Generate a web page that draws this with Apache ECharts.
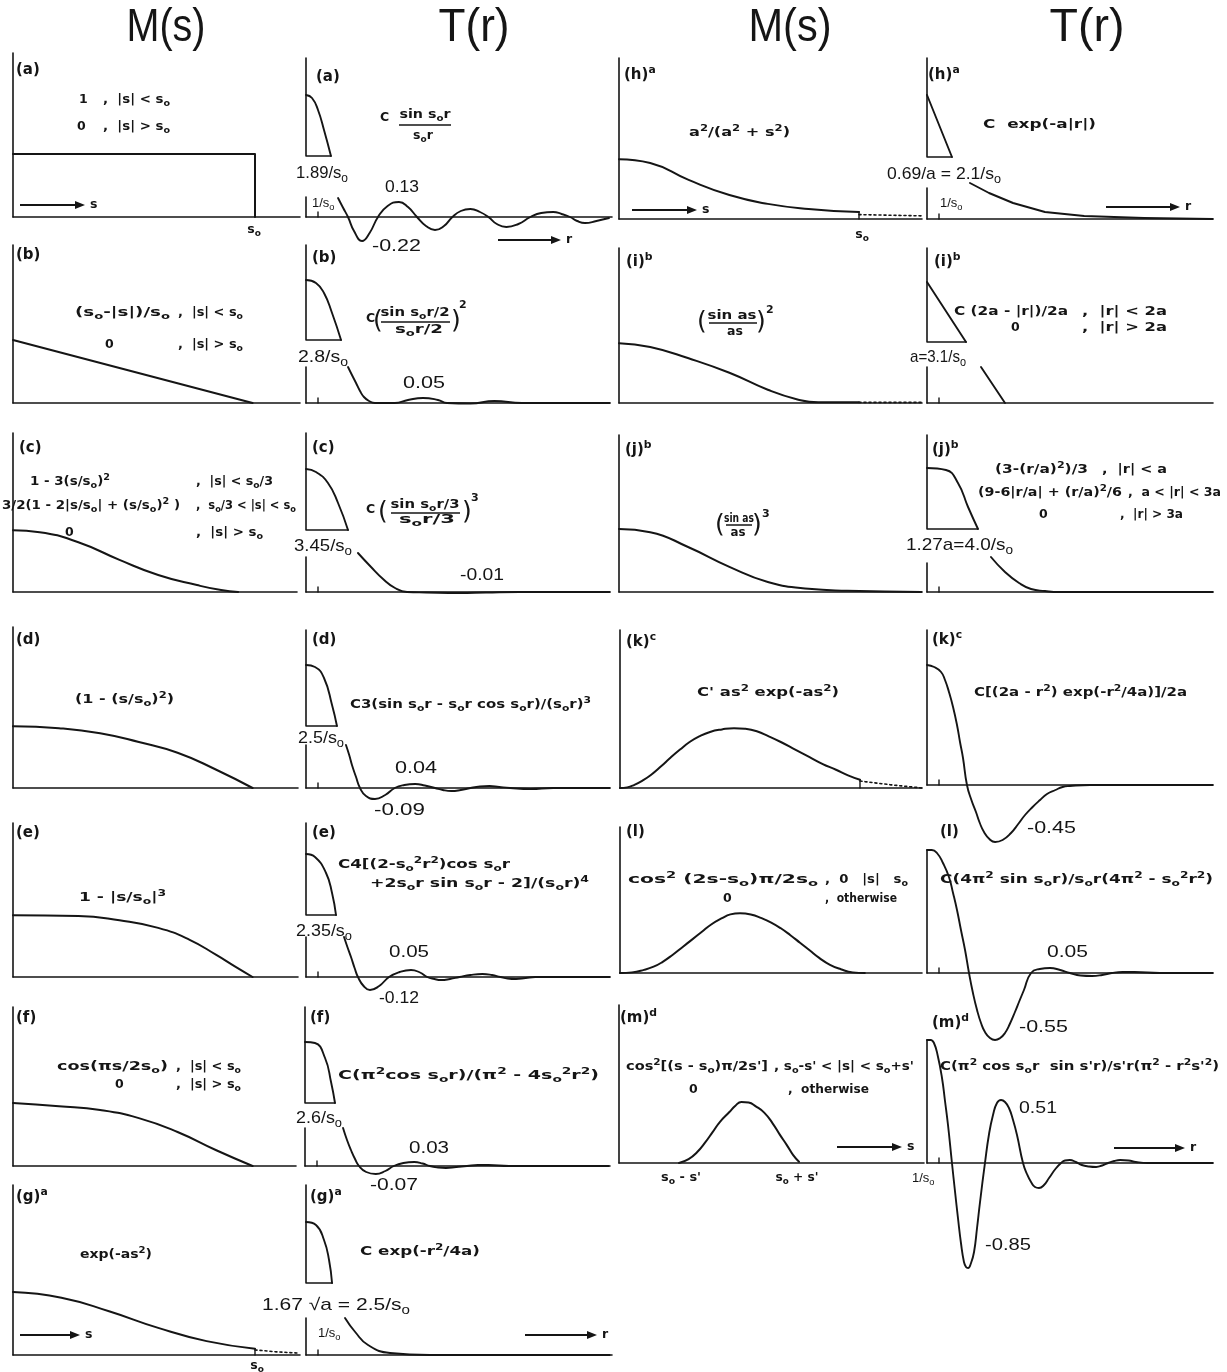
<!DOCTYPE html>
<html>
<head>
<meta charset="utf-8">
<script src="https://cdn.jsdelivr.net/npm/echarts@6/dist/echarts.min.js"></script>
<style>
  html, body { margin: 0; padding: 0; background: #fff; }
  #chart { width: 1227px; height: 1372px; }
</style>
</head>
<body>
<div id="chart"></div>
<script>
// ---- values ----
// M(s) panels: x = s/s0, y = M(s)
const mA = [[0, 1], [1, 1], [1, 0]];
const mB = [[0, 1], [0.99, 0]];
const mC = [[0, 0.98], [0.11, 0.95], [0.27, 0.79], [0.44, 0.51], [0.60, 0.27], [0.76, 0.11], [0.86, 0.03], [0.93, 0]];
const mD = [[0, 0.98], [0.19, 0.95], [0.36, 0.87], [0.52, 0.73], [0.68, 0.56], [0.84, 0.29], [0.99, 0]];
const mE = [[0, 0.98], [0.27, 0.97], [0.44, 0.90], [0.60, 0.78], [0.73, 0.59], [0.84, 0.35], [0.92, 0.16], [0.99, 0]];
const mF = [[0, 1.0], [0.19, 0.95], [0.36, 0.89], [0.52, 0.76], [0.68, 0.54], [0.84, 0.25], [0.99, 0]];
const mG = [[0, 1.0], [0.2, 0.91], [0.4, 0.69], [0.6, 0.43], [0.8, 0.22], [1.0, 0.10]];
const mGdot = [[1.0, 0.08], [1.09, 0.05], [1.18, 0.03]];
const mH = [[0, 0.95], [0.13, 0.89], [0.29, 0.62], [0.46, 0.38], [0.62, 0.24], [0.79, 0.16], [1.0, 0.11]];
const mHdot = [[1.0, 0.07], [1.26, 0.05]];
const mI = [[0, 0.95], [0.13, 0.89], [0.29, 0.71], [0.46, 0.48], [0.62, 0.21], [0.74, 0.06], [0.83, 0.01], [1.0, 0.01]];
const mIdot = [[1.0, 0.01], [1.26, 0.01]];
const mJ = [[0, 1.0], [0.13, 0.95], [0.29, 0.71], [0.46, 0.40], [0.62, 0.16], [0.79, 0.05], [0.95, 0.02], [1.26, 0]];
const mK = [[0, 0], [0.03, 0.01], [0.06, 0.05], [0.095, 0.12], [0.13, 0.21], [0.17, 0.34], [0.21, 0.48], [0.25, 0.61], [0.29, 0.73], [0.33, 0.82], [0.375, 0.89], [0.425, 0.93], [0.475, 0.95], [0.52, 0.94], [0.57, 0.90], [0.62, 0.82], [0.67, 0.73], [0.73, 0.61], [0.79, 0.49], [0.845, 0.38], [0.9, 0.29], [0.95, 0.20], [1.0, 0.13]];
const mKdot = [[1.0, 0.11], [1.13, 0.05], [1.26, 0]];
const mL = [[0, 0], [0.05, 0.01], [0.1, 0.05], [0.14, 0.10], [0.175, 0.17], [0.22, 0.29], [0.26, 0.41], [0.30, 0.53], [0.34, 0.65], [0.38, 0.77], [0.425, 0.87], [0.46, 0.93], [0.5, 0.95], [0.545, 0.93], [0.59, 0.87], [0.63, 0.80], [0.67, 0.71], [0.71, 0.60], [0.75, 0.48], [0.79, 0.36], [0.83, 0.24], [0.875, 0.13], [0.92, 0.06], [0.97, 0.01], [1.02, 0]];
const mM = [[0.25, 0], [0.29, 0.06], [0.325, 0.17], [0.36, 0.33], [0.39, 0.49], [0.42, 0.65], [0.46, 0.81], [0.485, 0.91], [0.51, 0.97], [0.54, 0.96], [0.57, 0.90], [0.605, 0.80], [0.64, 0.63], [0.67, 0.45], [0.70, 0.28], [0.725, 0.13], [0.75, 0.02]];

// T(r) panels: x = r*s0, y = T (inset = central lobe, lo = magnified tail)
const tA_in = [[0, 1.22], [0.5, 1.19], [1.0, 1.07], [1.5, 0.87], [2.08, 0.61]];
const tA_lo = [[2.67, 0.19], [3.1, 0.09], [3.5, 0], [4.0, -0.14], [4.67, -0.24], [5.3, -0.16], [6.0, 0], [6.8, 0.11], [7.75, 0.15], [8.5, 0.10], [9.25, 0], [10, -0.09], [10.75, -0.13], [11.5, -0.09], [12.2, 0], [12.9, 0.06], [13.7, 0.08], [14.5, 0.05], [15.2, 0], [15.9, -0.07], [16.7, -0.10], [17.7, -0.07], [18.7, 0], [19.6, 0.04], [20.6, 0.05], [21.3, 0.03], [22, 0], [22.6, -0.04], [23.25, -0.06], [24.2, -0.04], [25.25, -0.01]];
const tB_in = [[0, 1.23], [0.83, 1.20], [1.5, 1.10], [2.17, 0.90], [2.92, 0.63]];
const tB_lo = [[3.5, 0.36], [3.83, 0.28], [4.17, 0.20], [4.5, 0.12], [4.83, 0.06], [5.25, 0.02], [5.75, 0], [7.4, 0], [8.5, 0.03], [9.75, 0.05], [11, 0.03], [11.75, 0], [13.7, -0.005], [15.7, 0.02], [18, 0], [25.3, 0]];
const tC_in = [[0, 1.23], [0.83, 1.20], [1.83, 1.09], [2.67, 0.89], [3.5, 0.62]];
const tC_lo = [[4.33, 0.39], [5.42, 0.25], [6.42, 0.13], [7.42, 0.04], [8.42, 0], [10, -0.005], [12.8, -0.01], [15, -0.005], [17.8, 0], [25.3, 0]];
const tD_in = [[0, 1.23], [0.75, 1.21], [1.5, 1.10], [2.17, 0.83], [2.58, 0.62]];
const tD_lo = [[3.33, 0.43], [3.6, 0.33], [3.83, 0.23], [4.17, 0.11], [4.5, 0], [5.0, -0.08], [5.75, -0.11], [6.6, -0.07], [7.4, 0], [8.2, 0.03], [9.1, 0.04], [9.9, 0.025], [10.75, 0], [11.4, -0.02], [12.1, -0.03], [12.9, -0.02], [13.7, 0], [14.5, 0.015], [15.3, 0.02], [16.1, 0.01], [17, 0], [18.7, -0.01], [20.6, 0], [25.3, 0]];
const tE_in = [[0, 1.23], [0.75, 1.20], [1.67, 1.04], [2.17, 0.84], [2.5, 0.62]];
const tE_lo = [[3.17, 0.40], [3.45, 0.30], [3.75, 0.20], [4.05, 0.09], [4.33, 0], [4.8, -0.09], [5.33, -0.13], [6.1, -0.09], [6.92, 0], [7.8, 0.05], [8.75, 0.07], [9.5, 0.045], [10.1, 0], [10.7, -0.02], [11.25, -0.03], [12, -0.02], [12.8, 0], [13.7, 0.02], [14.7, 0.03], [15.5, 0.02], [16.2, 0], [16.8, -0.015], [17.5, -0.02], [18.3, -0.01], [19.1, 0], [25.3, 0]];
const tF_in = [[0, 1.24], [0.83, 1.23], [1.67, 1.08], [2.17, 0.84], [2.5, 0.63]];
const tF_lo = [[3.17, 0.38], [3.5, 0.26], [3.83, 0.16], [4.17, 0.07], [4.5, 0], [5.1, -0.06], [5.9, -0.08], [6.7, -0.05], [7.4, 0], [8.2, 0.03], [9.1, 0.04], [9.8, 0.025], [10.4, 0], [11.1, -0.015], [11.75, -0.02], [12.6, -0.01], [13.5, 0], [14.4, 0.01], [15.3, 0.01], [17, 0], [25.3, 0]];
const tG_in = [[0, 1.33], [0.83, 1.30], [1.5, 1.15], [1.92, 0.95], [2.17, 0.72]];
const tG_lo = [[3.25, 0.37], [4.1, 0.23], [5.17, 0.10], [7, 0.02], [10.3, 0], [25.3, 0]];
const tH_in = [[0, 1.24], [2.08, 0.62]];
const tH_lo = [[3.58, 0.36], [5.17, 0.26], [7.17, 0.16], [9.83, 0.07], [13.1, 0.03], [18.1, 0.01], [23.8, 0]];
const tI_in = [[0, 1.21], [3.25, 0.61]];
const tI_lo = [[4.5, 0.36], [6.5, 0]];
const tJ_in = [[0, 1.24], [1.58, 1.22], [2.58, 1.09], [3.42, 0.85], [4.25, 0.63]];
const tJ_lo = [[5.33, 0.35], [6.5, 0.20], [7.67, 0.09], [8.67, 0.03], [9.83, 0.01], [11, 0], [23.8, 0]];
const tK = [[0, 1.20], [0.6, 1.18], [1.17, 1.13], [1.5, 1.05], [1.83, 0.93], [2.17, 0.78], [2.5, 0.60], [2.75, 0.43], [3.0, 0.27], [3.33, 0], [3.7, -0.15], [4.08, -0.27], [4.4, -0.38], [4.75, -0.47], [5.2, -0.54], [5.67, -0.57], [6.3, -0.55], [7.0, -0.48], [7.6, -0.39], [8.17, -0.30], [8.8, -0.22], [9.42, -0.15], [10.0, -0.09], [10.7, -0.05], [11.3, -0.02], [11.9, -0.01], [13.6, 0], [23.8, 0]];
const tL = [[0, 1.23], [0.4, 1.23], [0.83, 1.20], [1.33, 1.10], [1.83, 0.96], [2.17, 0.80], [2.5, 0.63], [2.83, 0.43], [3.17, 0.23], [3.5, 0], [3.83, -0.20], [4.17, -0.37], [4.5, -0.50], [4.83, -0.59], [5.25, -0.65], [5.67, -0.67], [6.1, -0.65], [6.5, -0.60], [6.9, -0.51], [7.33, -0.39], [7.7, -0.28], [8.08, -0.17], [8.67, 0], [9.4, 0.04], [10.25, 0.05], [11.1, 0.03], [11.9, 0], [12.8, -0.025], [13.75, -0.03], [14.6, -0.02], [15.4, 0], [16.3, 0.01], [17.3, 0.01], [19.4, 0], [23.8, 0]];
const tM = [[0, 1.23], [0.3, 1.23], [0.58, 1.20], [0.9, 1.07], [1.25, 0.85], [1.5, 0.62], [1.75, 0.38], [2.08, 0], [2.33, -0.28], [2.58, -0.55], [2.83, -0.80], [3.08, -0.99], [3.25, -1.04], [3.42, -1.05], [3.67, -1.0], [3.92, -0.89], [4.17, -0.65], [4.42, -0.39], [4.83, 0], [5.17, 0.29], [5.5, 0.48], [5.83, 0.60], [6.17, 0.63], [6.5, 0.61], [6.83, 0.55], [7.17, 0.43], [7.5, 0.28], [8.0, 0], [8.33, -0.11], [8.67, -0.19], [9.0, -0.24], [9.33, -0.25], [9.75, -0.22], [10.17, -0.15], [10.7, -0.06], [11.17, 0], [11.5, 0.025], [11.9, 0.03], [12.4, 0.01], [12.9, -0.02], [13.5, -0.035], [14.1, -0.04], [14.6, -0.025], [15.1, 0], [15.6, 0.02], [16.1, 0.03], [16.8, 0.025], [17.4, 0.01], [18.4, 0], [23.8, 0]];

// ---- layout of the 26 little plots (pixels) ----
const INK = '#151515';
const M1 = { kind: 'M', kx: 242, ky: 63 };
const M2 = { kind: 'M', kx: 240, ky: 63 };
const T  = { kind: 'T', kx: 12, ky: 100 };
const panels = [
  { ...M1, ox: 13, oy: 217, top: 53, right: 300, curves: [[mA, false]] },
  { ...M1, ox: 13, oy: 403, top: 245, right: 300, curves: [[mB, false]] },
  { ...M1, ox: 13, oy: 592, top: 433, right: 297, curves: [[mC, true]] },
  { ...M1, ox: 13, oy: 788, top: 627, right: 298, curves: [[mD, true]] },
  { ...M1, ox: 13, oy: 977, top: 823, right: 298, curves: [[mE, true]] },
  { ...M1, ox: 13, oy: 1166, top: 1007, right: 296, curves: [[mF, true]] },
  { ...M1, ox: 13, oy: 1355, top: 1185, right: 300, curves: [[mG, true]], dots: mGdot, tick: 0.10 },
  { ...M2, ox: 619, oy: 219, top: 58, right: 922, curves: [[mH, true]], dots: mHdot, tick: 0.11 },
  { ...M2, ox: 619, oy: 403, top: 248, right: 922, curves: [[mI, true]], dots: mIdot },
  { ...M2, ox: 619, oy: 592, top: 435, right: 922, curves: [[mJ, true]] },
  { ...M2, ox: 620, oy: 788, top: 630, right: 922, curves: [[mK, true]], dots: mKdot, tick: 0.13 },
  { ...M2, ox: 620, oy: 973, top: 827, right: 922, curves: [[mL, true]] },
  { ...M2, ox: 619, oy: 1163, top: 1005, right: 924, curves: [[mM, true]] },
  { ...T, ox: 306, oy: 217, top: 58, right: 612, inset: tA_in, lo: tA_lo, lowTop: 0.20 },
  { ...T, ox: 306, oy: 403, top: 245, right: 610, inset: tB_in, lo: tB_lo, lowTop: 0.36 },
  { ...T, ox: 306, oy: 592, top: 433, right: 610, inset: tC_in, lo: tC_lo, lowTop: 0.35 },
  { ...T, ox: 306, oy: 788, top: 630, right: 610, inset: tD_in, lo: tD_lo, lowTop: 0.43 },
  { ...T, ox: 306, oy: 977, top: 823, right: 610, inset: tE_in, lo: tE_lo, lowTop: 0.40 },
  { ...T, ox: 305, oy: 1166, top: 1007, right: 610, inset: tF_in, lo: tF_lo, lowTop: 0.38 },
  { ...T, ox: 306, oy: 1355, top: 1185, right: 612, inset: tG_in, lo: tG_lo, lowTop: 0.37 },
  { ...T, ox: 927, oy: 219, top: 58, right: 1213, inset: tH_in, lo: tH_lo, lowTop: 0.31, straight: true },
  { ...T, ox: 927, oy: 403, top: 248, right: 1213, inset: tI_in, lo: tI_lo, lowTop: 0.36, straight: true },
  { ...T, ox: 927, oy: 592, top: 435, right: 1213, inset: tJ_in, lo: tJ_lo, lowTop: 0.29 },
  { ...T, ox: 927, oy: 785, top: 630, right: 1213, full: tK },
  { ...T, ox: 927, oy: 973, top: 850, right: 1213, full: tL },
  { ...T, ox: 927, oy: 1163, top: 1040, right: 1213, full: tM }
];

// ---- text on the figure: [text, x, y, style, width, align] ----
const notes = [
  ['M(s)', 166, 28, 'title', 79, 'center'],
  ['T(r)', 474, 28, 'title', 71, 'center'],
  ['M(s)', 790, 28, 'title', 83, 'center'],
  ['T(r)', 1087, 28, 'title', 75, 'center'],
  // column 1
  ['(a)', 16, 70, 'lbl'],
  ['1', 79, 100, 'form'], [',  |s| < s₀', 103, 100, 'form', 67],
  ['0', 77, 127, 'form'], [',  |s| > s₀', 103, 127, 'form', 67],
  ['s₀', 254, 230, 'form', 0, 'center'],
  ['(b)', 16, 255, 'lbl'],
  ['(s₀-|s|)/s₀', 75, 313, 'form', 95], [',  |s| < s₀', 178, 313, 'form', 65],
  ['0', 105, 345, 'form'], [',  |s| > s₀', 178, 345, 'form', 65],
  ['(c)', 19, 448, 'lbl'],
  ['1 - 3(s/s₀)²', 30, 482, 'form', 80], [',  |s| < s₀/3', 196, 482, 'form', 77],
  ['3/2(1 - 2|s/s₀| + (s/s₀)² )', 2, 506, 'form', 178], [',  s₀/3 < |s| < s₀', 196, 506, 'form', 100],
  ['0', 65, 533, 'form'], [',  |s| > s₀', 196, 533, 'form', 67],
  ['(d)', 16, 640, 'lbl'],
  ['(1 - (s/s₀)²)', 75, 700, 'form', 99],
  ['(e)', 16, 833, 'lbl'],
  ['1 - |s/s₀|³', 79, 898, 'form', 87],
  ['(f)', 16, 1018, 'lbl'],
  ['cos(πs/2s₀)', 57, 1067, 'form', 111], [',  |s| < s₀', 176, 1067, 'form', 65],
  ['0', 115, 1085, 'form'], [',  |s| > s₀', 176, 1085, 'form', 65],
  ['(g)ᵃ', 16, 1197, 'lbl'],
  ['exp(-as²)', 80, 1255, 'form', 72],
  ['s₀', 257, 1366, 'form', 0, 'center'],
  // column 2
  ['(a)', 316, 77, 'lbl'],
  ['C', 380, 118, 'form'], ['sin s₀r', 425, 115, 'form', 51, 'center'], ['s₀r', 423, 136, 'form', 0, 'center'],
  ['1.89/s₀', 296, 173, 'num', 52], ['0.13', 385, 187, 'num', 34],
  ['1/s₀', 312, 203, 'small'], ['-0.22', 372, 246, 'num', 49],
  ['(b)', 312, 258, 'lbl'],
  ['C', 366, 319, 'form'], ['(', 373, 321, 'paren'], ['sin s₀r/2', 415, 313, 'form', 69, 'center'],
  ['s₀r/2', 419, 330, 'form', 48, 'center'], [')', 451, 321, 'paren'], ['2', 459, 305, 'exp'],
  ['2.8/s₀', 298, 357, 'num', 50], ['0.05', 403, 383, 'num', 42],
  ['(c)', 312, 448, 'lbl'],
  ['C', 366, 510, 'form'], ['(', 378, 512, 'paren'], ['sin s₀r/3', 425, 505, 'form', 69, 'center'],
  ['s₀r/3', 427, 520, 'form', 56, 'center'], [')', 462, 512, 'paren'], ['3', 471, 498, 'exp'],
  ['3.45/s₀', 294, 546, 'num', 58], ['-0.01', 460, 575, 'num', 44],
  ['(d)', 312, 640, 'lbl'],
  ['C3(sin s₀r - s₀r cos s₀r)/(s₀r)³', 350, 705, 'form', 241],
  ['2.5/s₀', 298, 738, 'num', 46], ['0.04', 395, 768, 'num', 42], ['-0.09', 374, 810, 'num', 51],
  ['(e)', 312, 833, 'lbl'],
  ['C4[(2-s₀²r²)cos s₀r', 338, 865, 'form', 172], ['+2s₀r sin s₀r - 2]/(s₀r)⁴', 370, 884, 'form', 219],
  ['2.35/s₀', 296, 931, 'num', 56], ['0.05', 389, 952, 'num', 40], ['-0.12', 379, 998, 'num', 40],
  ['(f)', 310, 1018, 'lbl'],
  ['C(π²cos s₀r)/(π² - 4s₀²r²)', 338, 1076, 'form', 261],
  ['2.6/s₀', 296, 1118, 'num', 46], ['0.03', 409, 1148, 'num', 40], ['-0.07', 370, 1185, 'num', 48],
  ['(g)ᵃ', 310, 1197, 'lbl'],
  ['C exp(-r²/4a)', 360, 1252, 'form', 120],
  ['1.67 √a = 2.5/s₀', 262, 1305, 'num', 148], ['1/s₀', 318, 1333, 'small'],
  // column 3
  ['(h)ᵃ', 624, 75, 'lbl'],
  ['a²/(a² + s²)', 689, 133, 'form', 101],
  ['s₀', 862, 235, 'form', 0, 'center'],
  ['(i)ᵇ', 626, 262, 'lbl'],
  ['(', 697, 322, 'paren'], ['sin as', 732, 316, 'form', 49, 'center'], ['as', 735, 332, 'form', 0, 'center'],
  [')', 756, 322, 'paren'], ['2', 766, 310, 'exp'],
  ['(j)ᵇ', 625, 450, 'lbl'],
  ['(', 715, 525, 'paren'], ['sin as', 739, 519, 'form', 30, 'center'], ['as', 738, 533, 'form', 15, 'center'],
  [')', 752, 525, 'paren'], ['3', 762, 514, 'exp'],
  ['(k)ᶜ', 626, 642, 'lbl'],
  ["C' as² exp(-as²)", 697, 693, 'form', 142],
  ['(l)', 626, 832, 'lbl'],
  ['cos² (2s-s₀)π/2s₀', 628, 880, 'form', 190], [',  0   |s|   s₀', 825, 880, 'form', 83],
  ['0', 723, 899, 'form'], [',  otherwise', 825, 899, 'form', 72],
  ['(m)ᵈ', 620, 1018, 'lbl'],
  ["cos²[(s - s₀)π/2s']", 626, 1067, 'form', 142], [", s₀-s' < |s| < s₀+s'", 774, 1067, 'form', 140],
  ['0', 689, 1090, 'form'], [',  otherwise', 788, 1090, 'form', 81],
  ["s₀ - s'", 681, 1178, 'form', 40, 'center'], ["s₀ + s'", 797, 1178, 'form', 43, 'center'],
  // column 4
  ['(h)ᵃ', 928, 75, 'lbl'],
  ['C  exp(-a|r|)', 983, 125, 'form', 113],
  ['0.69/a = 2.1/s₀', 887, 174, 'num', 114], ['1/s₀', 940, 203, 'small'],
  ['(i)ᵇ', 934, 262, 'lbl'],
  ['C (2a - |r|)/2a', 954, 312, 'form', 114], [',  |r| < 2a', 1082, 312, 'form', 85],
  ['0', 1011, 328, 'form'], [',  |r| > 2a', 1082, 328, 'form', 85],
  ['a=3.1/s₀', 910, 357, 'num', 56],
  ['(j)ᵇ', 932, 450, 'lbl'],
  ['(3-(r/a)²)/3', 995, 470, 'form', 93], [',  |r| < a', 1102, 470, 'form', 65],
  ['(9-6|r/a| + (r/a)²/6', 978, 493, 'form', 144], [',  a < |r| < 3a', 1128, 493, 'form', 93],
  ['0', 1039, 515, 'form'], [',  |r| > 3a', 1120, 515, 'form', 63],
  ['1.27a=4.0/s₀', 906, 545, 'num', 107],
  ['(k)ᶜ', 932, 640, 'lbl'],
  ['C[(2a - r²) exp(-r²/4a)]/2a', 974, 693, 'form', 213],
  ['-0.45', 1027, 828, 'num', 49],
  ['(l)', 940, 832, 'lbl'],
  ['C(4π² sin s₀r)/s₀r(4π² - s₀²r²)', 940, 880, 'form', 273],
  ['0.05', 1047, 952, 'num', 41], ['-0.55', 1019, 1027, 'num', 49],
  ['(m)ᵈ', 932, 1023, 'lbl'],
  ["C(π² cos s₀r  sin s'r)/s'r(π² - r²s'²)", 940, 1067, 'form', 279],
  ['0.51', 1019, 1108, 'num', 38], ['-0.85', 985, 1245, 'num', 46], ['1/s₀', 912, 1178, 'small']
];
// arrows: x1, x2, y, letter
const arrows = [[20, 85, 205, 's'], [498, 561, 240, 'r'], [20, 80, 1335, 's'], [525, 597, 1335, 'r'],
  [632, 697, 210, 's'], [837, 902, 1147, 's'], [1106, 1180, 207, 'r'], [1114, 1185, 1148, 'r']];
// fraction bars: x1, x2, y
const bars = [[399, 451, 125], [381, 450, 322], [391, 460, 513], [709, 757, 323], [726, 752, 525]];

const DJ = '"DejaVu Sans", sans-serif';
const LS = '"Liberation Sans", sans-serif';
const STY = {
  title: { size: 46, weight: 400, fam: LS },
  lbl: { size: 15, weight: 700, fam: DJ },
  form: { size: 12.5, weight: 700, fam: DJ },
  exp: { size: 11, weight: 700, fam: DJ },
  num: { size: 17, weight: 400, fam: LS },
  small: { size: 13, weight: 400, fam: LS },
  paren: { size: 25, weight: 400, fam: DJ }
};
const SUP = { '²': '2', '³': '3', '⁴': '4', 'ᵃ': 'a', 'ᵇ': 'b', 'ᶜ': 'c', 'ᵈ': 'd' };
const SUB = { '₀': 'o' };
const measure = document.createElement('canvas').getContext('2d');

// split a label into normal / raised / lowered runs for rich text
function runs(t) {
  const out = [];
  let kind = null, buf = '';
  for (const ch of t) {
    const k = SUP[ch] ? 'p' : (SUB[ch] ? 'b' : 'n');
    if (k !== kind) { if (buf) out.push([kind, buf]); kind = k; buf = ''; }
    buf += SUP[ch] || SUB[ch] || ch;
  }
  if (buf) out.push([kind, buf]);
  return out;
}

function textEl(t, x, y, f, w, align) {
  const s = STY[f];
  const small = s.size * 0.72;
  const parts = runs(t);
  let total = 0;
  parts.forEach(([k, str]) => {
    measure.font = `${s.weight} ${k === 'n' ? s.size : small}px ${s.fam}`;
    total += measure.measureText(str).width;
  });
  const sx = w ? w / total : 1;
  const base = { fontFamily: s.fam, fontWeight: s.weight, fill: INK };
  const rich = {
    n: { ...base, fontSize: s.size, lineHeight: s.size * 1.35, verticalAlign: 'middle' },
    p: { ...base, fontSize: small, lineHeight: small, verticalAlign: 'top' },
    b: { ...base, fontSize: small, lineHeight: small, verticalAlign: 'bottom' }
  };
  return {
    type: 'text', x, y, scaleX: sx, silent: true,
    style: {
      text: parts.map(([k, str]) => `{${k}|${str}}`).join(''), rich,
      fill: INK, textAlign: align || 'left', textVerticalAlign: 'middle'
    }
  };
}

const graphics = [];
notes.forEach(n => graphics.push(textEl(n[0], n[1], n[2], n[3], n[4], n[5])));
arrows.forEach(([x1, x2, y, c]) => {
  graphics.push({ type: 'line', silent: true, shape: { x1, y1: y, x2: x2 - 6, y2: y }, style: { stroke: INK, lineWidth: 2 } });
  graphics.push({ type: 'polygon', silent: true, shape: { points: [[x2 - 10, y - 4], [x2, y], [x2 - 10, y + 4]] }, style: { fill: INK } });
  graphics.push(textEl(c, x2 + 5, y, 'form'));
});
bars.forEach(([x1, x2, y]) => graphics.push({ type: 'line', silent: true, shape: { x1, y1: y, x2, y2: y }, style: { stroke: INK, lineWidth: 1.5 } }));

// ---- build grids / axes / series ----
const grid = [], xAxis = [], yAxis = [], series = [];
const hidden = { axisTick: { show: false }, axisLabel: { show: false }, splitLine: { show: false } };

function line(i, data, smooth, o = {}) {
  series.push({
    type: 'line', xAxisIndex: i, yAxisIndex: i, data, symbol: 'none', showSymbol: false,
    smooth: smooth ? 0.5 : false, clip: false, silent: true, animation: false, z: 3,
    lineStyle: { color: INK, width: o.width || 1.9, type: o.type || 'solid', cap: 'round', join: 'round' }
  });
}

panels.forEach((p, i) => {
  const xmax = (p.right - p.ox) / p.kx;
  const ymax = (p.oy - p.top) / p.ky;
  let ymin = 0;
  [p.full || [], p.lo || []].forEach(d => d.forEach(pt => { if (pt[1] < ymin) ymin = pt[1]; }));
  if (ymin < 0) ymin -= 0.03;
  grid.push({ left: p.ox, top: p.top, width: p.right - p.ox, height: (ymax - ymin) * p.ky });
  xAxis.push({ type: 'value', gridIndex: i, min: 0, max: xmax,
    axisLine: { show: true, onZero: true, lineStyle: { color: INK, width: 1.6 } }, ...hidden });
  yAxis.push({ type: 'value', gridIndex: i, min: ymin, max: ymax,
    axisLine: { show: p.kind === 'M', lineStyle: { color: INK, width: 1.6 } }, ...hidden });

  if (p.kind === 'M') {
    p.curves.forEach(([d, sm]) => line(i, d, sm, { width: 2 }));
    if (p.dots) line(i, p.dots, false, { type: [2, 3], width: 1.6 });
    if (p.tick) line(i, [[1, 0], [1, p.tick]], false, { width: 1.4 });
  } else if (p.full) {
    line(i, p.full, true);
    line(i, [[0, ymax], [0, 0]], false, { width: 1.6 });
    line(i, [[1, 0], [1, 0.05]], false, { width: 1.4 });
  } else {
    const last = p.inset[p.inset.length - 1];
    line(i, p.inset, !p.straight);
    line(i, p.lo, !p.straight);
    line(i, [[0, ymax], [0, last[1]], [last[0], last[1]]], false, { width: 1.6 });
    line(i, [[0, p.lowTop], [0, 0]], false, { width: 1.6 });
    line(i, [[1, 0], [1, 0.05]], false, { width: 1.4 });
  }
});

const chart = echarts.init(document.getElementById('chart'));
chart.setOption({
  animation: false,
  backgroundColor: '#fff',
  grid, xAxis, yAxis, series,
  graphic: { elements: graphics }
});
</script>
</body>
</html>
